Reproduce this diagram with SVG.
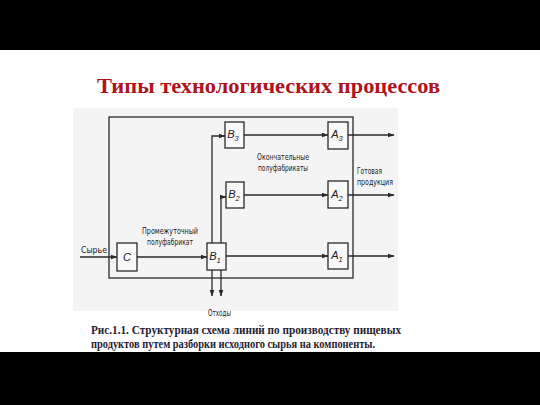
<svg xmlns="http://www.w3.org/2000/svg" width="540" height="405" viewBox="0 0 540 405">
<style>
.ln{fill:none;stroke:#2a2a2a;stroke-width:1.3}
.box{fill:#f8f8f8;stroke:#2a2a2a;stroke-width:1.3}
.lbl{font-family:"Liberation Sans Narrow","DejaVu Sans Condensed","Liberation Sans",sans-serif;font-size:9.5px;fill:#222}
.bl{font-family:"Liberation Sans","DejaVu Sans",sans-serif;font-style:italic;font-size:11px;fill:#222;text-anchor:middle}
.sub{font-size:7.5px}
.title{font-family:"Liberation Serif","Times New Roman",serif;font-weight:bold;font-size:22px;fill:#b0121b}
.cap{font-family:"Liberation Serif","Times New Roman",serif;font-weight:bold;font-size:11.5px;fill:#1f2233}
</style>
<defs>
<marker id="ar" markerWidth="7" markerHeight="6" refX="6.5" refY="3" orient="auto" markerUnits="userSpaceOnUse">
<path d="M0,0.5 L7,3 L0,5.5 Z" fill="#2a2a2a"/>
</marker>
</defs>
<rect x="0" y="0" width="540" height="405" fill="#ffffff"/>
<rect x="0" y="0" width="540" height="50" fill="#000"/>
<rect x="0" y="352" width="540" height="53" fill="#000"/>
<rect x="73" y="108" width="325" height="203" fill="#f4f4f4"/>
<text class="title" x="97" y="93" textLength="343" lengthAdjust="spacingAndGlyphs">Типы технологических процессов</text>
<g id="connectors">
<rect class="ln" x="109" y="117" width="244" height="161"/>
<line class="ln" x1="80" y1="257" x2="117" y2="257" marker-end="url(#ar)"/>
<line class="ln" x1="137" y1="257" x2="207" y2="257" marker-end="url(#ar)"/>
<line class="ln" x1="226" y1="256" x2="328" y2="256" marker-end="url(#ar)"/>
<line class="ln" x1="348" y1="256" x2="394" y2="256" marker-end="url(#ar)"/>
<polyline class="ln" points="212,243 212,136 225,136" marker-end="url(#ar)"/>
<polyline class="ln" points="221,243 221,197 226,197" marker-end="url(#ar)"/>
<line class="ln" x1="244" y1="135" x2="328" y2="135" marker-end="url(#ar)"/>
<line class="ln" x1="244" y1="195" x2="328" y2="195" marker-end="url(#ar)"/>
<line class="ln" x1="348" y1="135" x2="394" y2="135" marker-end="url(#ar)"/>
<line class="ln" x1="348" y1="195" x2="394" y2="195" marker-end="url(#ar)"/>
<line class="ln" x1="212" y1="270" x2="212" y2="296" marker-end="url(#ar)"/>
<line class="ln" x1="221" y1="270" x2="221" y2="296" marker-end="url(#ar)"/>
</g>
<g id="C"><rect class="box" x="117" y="243" width="20" height="28"/><text class="bl" x="127" y="261">C</text></g>
<g id="B1"><rect class="box" x="207" y="243" width="19" height="27"/><text class="bl" x="215" y="260">B<tspan class="sub" dy="2.5">1</tspan></text></g>
<g id="B2"><rect class="box" x="226" y="182" width="18" height="26"/><text class="bl" x="234" y="198">B<tspan class="sub" dy="2.5">2</tspan></text></g>
<g id="B3"><rect class="box" x="225" y="122" width="19" height="26"/><text class="bl" x="233" y="138">B<tspan class="sub" dy="2.5">3</tspan></text></g>
<g id="A1"><rect class="box" x="328" y="243" width="20" height="26"/><text class="bl" x="337" y="259">A<tspan class="sub" dy="2.5">1</tspan></text></g>
<g id="A2"><rect class="box" x="328" y="181" width="20" height="27"/><text class="bl" x="337" y="198">A<tspan class="sub" dy="2.5">2</tspan></text></g>
<g id="A3"><rect class="box" x="328" y="122" width="20" height="27"/><text class="bl" x="337" y="138">A<tspan class="sub" dy="2.5">3</tspan></text></g>
<g id="labels">
<text class="lbl" x="81" y="253" textLength="26" lengthAdjust="spacingAndGlyphs">Сырье</text>
<text class="lbl" x="142" y="234" textLength="56" lengthAdjust="spacingAndGlyphs">Промежуточный</text>
<text class="lbl" x="147" y="245" textLength="46" lengthAdjust="spacingAndGlyphs">полуфабрикат</text>
<text class="lbl" x="257" y="160" textLength="52" lengthAdjust="spacingAndGlyphs">Окончательные</text>
<text class="lbl" x="258" y="171" textLength="50" lengthAdjust="spacingAndGlyphs">полуфабрикаты</text>
<text class="lbl" x="357" y="174" textLength="25" lengthAdjust="spacingAndGlyphs">Готовая</text>
<text class="lbl" x="357" y="185" textLength="36" lengthAdjust="spacingAndGlyphs">продукция</text>
<text class="lbl" x="208" y="316" textLength="23" lengthAdjust="spacingAndGlyphs">Отходы</text>
</g>
<text class="cap" x="91" y="334" textLength="310" lengthAdjust="spacingAndGlyphs">Рис.1.1. Структурная схема линий по производству пищевых</text>
<text class="cap" x="91" y="347.5" textLength="284" lengthAdjust="spacingAndGlyphs">продуктов путем разборки исходного сырья на компоненты.</text>
</svg>
